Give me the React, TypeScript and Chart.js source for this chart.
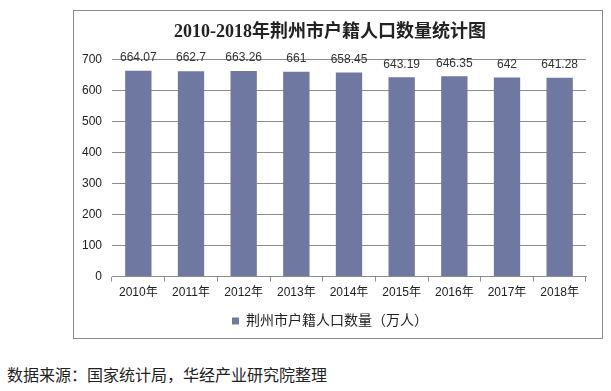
import React, { useEffect, useRef } from "react";
import { Chart, registerables } from "chart.js";

Chart.register(...registerables);

const categories = ["2010年", "2011年", "2012年", "2013年", "2014年", "2015年", "2016年", "2017年", "2018年"];
const values = [664.07, 662.7, 663.26, 661, 658.45, 643.19, 646.35, 642, 641.28];
const valueLabels = ["664.07", "662.7", "663.26", "661", "658.45", "643.19", "646.35", "642", "641.28"];
const yMin = 0;
const yMax = 700;
const yStep = 100;
const seriesName = "荆州市户籍人口数量（万人）";
const titleText = "2010-2018年荆州市户籍人口数量统计图";
const sourceText = "数据来源：国家统计局，华经产业研究院整理";

const BAR_COLOR = "#6f78a0";
const SANS = '"Liberation Sans", Arial, "Noto Sans CJK SC", sans-serif';
const SERIF = '"Liberation Serif", "Times New Roman", "Noto Sans CJK SC", serif';

const dataLabelPlugin = {
  id: "dataLabels",
  afterDatasetsDraw(chart: any) {
    const ctx = chart.ctx;
    const meta = chart.getDatasetMeta(0);
    ctx.save();
    ctx.font = "12px " + SANS;
    ctx.fillStyle = "#333333";
    ctx.textAlign = "center";
    ctx.textBaseline = "middle";
    meta.data.forEach((bar: any, i: number) => {
      ctx.fillText(valueLabels[i], bar.x, bar.y - 13);
    });
    ctx.restore();
  },
};

export default function App() {
  const canvasRef = useRef<HTMLCanvasElement | null>(null);

  useEffect(() => {
    const canvas = canvasRef.current;
    if (!canvas) return;
    const chart = new Chart(canvas, {
      type: "bar",
      data: {
        labels: categories,
        datasets: [
          {
            label: seriesName,
            data: values,
            backgroundColor: BAR_COLOR,
            borderWidth: 0,
            categoryPercentage: 1,
            barPercentage: 0.5,
          },
        ],
      },
      options: {
        responsive: true,
        maintainAspectRatio: false,
        animation: false,
        layout: { padding: { left: 0, right: 16, top: 0, bottom: 0 } },
        plugins: {
          title: {
            display: true,
            text: titleText,
            color: "#222222",
            font: { family: SERIF, size: 18, weight: "bold", lineHeight: 1.2 },
            padding: { top: 11, bottom: 16 },
          },
          legend: {
            display: true,
            position: "bottom",
            labels: {
              color: "#222222",
              font: { family: SANS, size: 14 },
              boxWidth: 7,
              boxHeight: 7,
              padding: 10,
            },
          },
          tooltip: { enabled: false },
        },
        scales: {
          x: {
            grid: {
              display: true,
              drawOnChartArea: false,
              drawTicks: true,
              tickLength: 5,
              color: "#8c8c8c",
            },
            border: { display: true, color: "#8c8c8c" },
            ticks: {
              color: "#222222",
              font: { family: SANS, size: 12 },
              padding: 4,
              maxRotation: 0,
            },
          },
          y: {
            min: yMin,
            max: yMax,
            afterFit(scale: any) {
              scale.width = 38;
            },
            grid: { color: "#8c8c8c", drawTicks: false },
            border: { display: false },
            ticks: {
              stepSize: yStep,
              color: "#222222",
              font: { family: SANS, size: 12 },
              padding: 10,
            },
          },
        },
      },
      plugins: [dataLabelPlugin],
    } as any);
    return () => chart.destroy();
  }, []);

  return (
    <div style={{ position: "fixed", left: 0, top: 0, width: 611, height: 391, background: "#ffffff" }}>
      <div
        style={{
          position: "absolute",
          left: 73,
          top: 10,
          width: 528,
          height: 327,
          border: "1px solid #8a8a8a",
        }}
      >
        <canvas ref={canvasRef} />
      </div>
      <div
        style={{
          position: "absolute",
          left: 7,
          top: 364,
          fontFamily: '"Noto Sans CJK SC", sans-serif',
          fontSize: 16,
          lineHeight: "20px",
          color: "#222222",
          whiteSpace: "nowrap",
        }}
      >
        {sourceText}
      </div>
    </div>
  );
}
